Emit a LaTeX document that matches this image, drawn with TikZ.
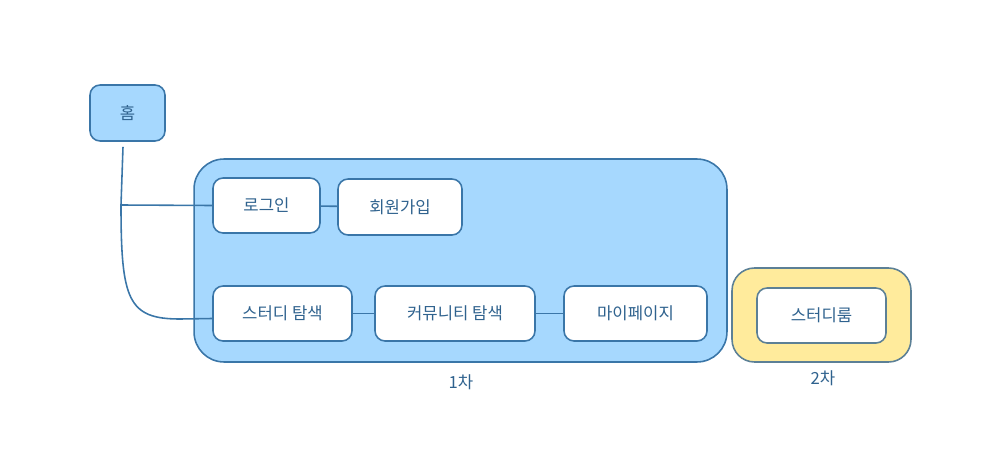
\documentclass[tikz,border=0pt]{standalone}
\usepackage{fontspec}
\setmainfont{Noto Sans CJK KR}
\definecolor{boxblue}{HTML}{A6D8FE}
\definecolor{edgeblue}{HTML}{3A76A8}
\definecolor{textblue}{HTML}{2F628E}
\definecolor{roomyellow}{HTML}{FFEB9C}
\definecolor{roomedge}{HTML}{5C8096}
\begin{document}
\begin{tikzpicture}[x=0.02cm,y=-0.02cm,
    font=\fontsize{9.5}{11}\selectfont,text=textblue,
    page_node/.style={draw=edgeblue,fill=white,line width=0.9pt,rounded corners=0.2cm,minimum height=1.1cm,inner sep=0pt},
    group_node/.style={draw=edgeblue,fill=boxblue,line width=0.9pt,inner sep=0pt},
    link/.style={draw=edgeblue,line width=0.9pt}]

    \useasboundingbox (0,0) rectangle (993,473);

    \node[group_node,rounded corners=0.2cm,minimum width=1.5cm,minimum height=1.12cm] (home) at (127.5,113) {홈};

    \node[group_node,rounded corners=0.6cm,minimum width=10.66cm,minimum height=4.06cm] (first) at (460.5,260.5) {};
    \node[group_node,fill=roomyellow,draw=roomedge,rounded corners=0.45cm,minimum width=3.58cm,minimum height=1.88cm] (second) at (821.5,315) {};

    \node[page_node,minimum width=2.14cm] (login) at (266.5,205.5) {로그인};
    \node[page_node,minimum width=2.48cm,minimum height=1.12cm] (join) at (400,207) {회원가입};
    \node[page_node,minimum width=2.78cm] (study) at (282.5,313.5) {스터디\ 탐색};
    \node[page_node,minimum width=3.2cm] (community) at (455,313.5) {커뮤니티\ 탐색};
    \node[page_node,minimum width=2.86cm] (mypage) at (635.5,313.5) {마이페이지};
    \node[page_node,draw=roomedge,minimum width=2.58cm] (room) at (821.5,315.5) {스터디룸};

    \node (first_label) at (461,382) {1차};
    \node (second_label) at (823,378) {2차};

    \coordinate (home_foot) at ([xshift=-0.09cm,yshift=-0.1cm]home.south);
    \coordinate (branch) at (121,205);

    \draw[link] (home_foot) -- (branch) -- (login.west);
    \draw[link] (branch) .. controls (121,300) and (128,319) .. (180,319) -- ([yshift=-0.1cm]study.west);
    \draw[link] (login) -- (join);
    \draw[link] (study) -- (community);
    \draw[link] (community) -- (mypage);
\end{tikzpicture}
\end{document}
